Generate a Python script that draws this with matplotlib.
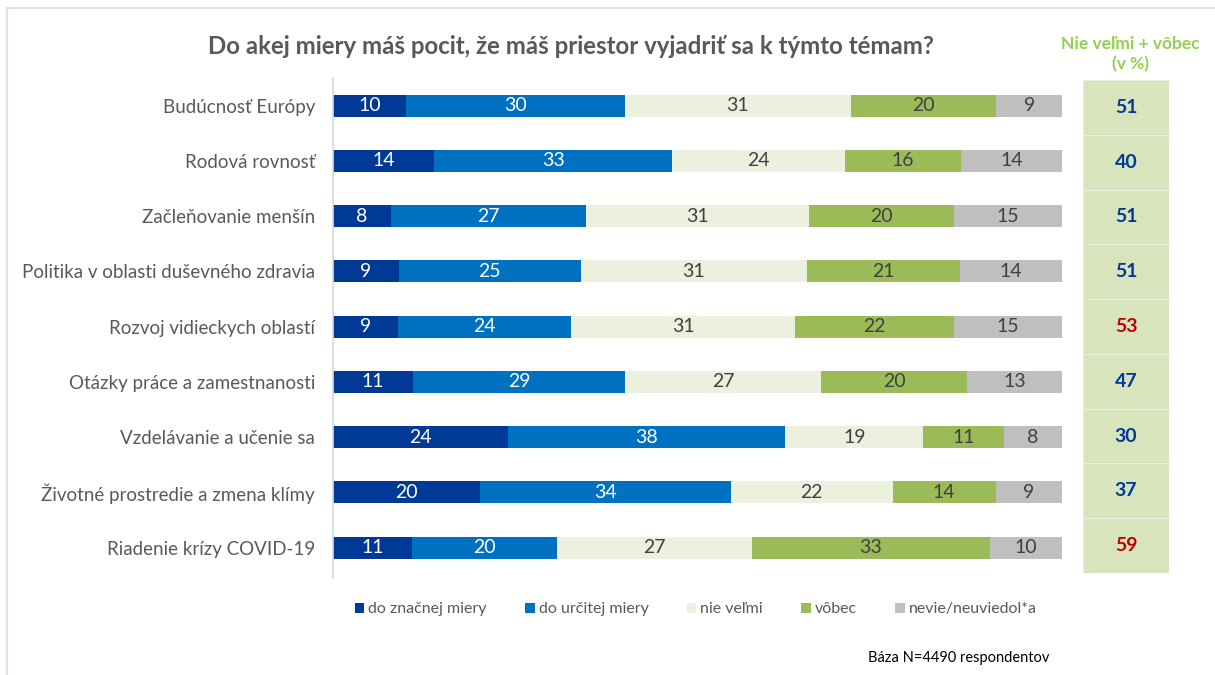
import numpy as np
import matplotlib.pyplot as plt
from matplotlib.patches import Patch, Rectangle

plt.rcParams.update({
    "font.family": ["Lato", "DejaVu Sans"],
})

# ── data ───────────────────────────────────────────────────────────────────────
categories = [
    "Budúcnosť Európy",
    "Rodová rovnosť",
    "Začleňovanie menšín",
    "Politika v oblasti duševného zdravia",
    "Rozvoj vidieckych oblastí",
    "Otázky práce a zamestnanosti",
    "Vzdelávanie a učenie sa",
    "Životné prostredie a zmena klímy",
    "Riadenie krízy COVID-19",
]
do_znacnej = [10, 14, 8, 9, 9, 11, 24, 20, 11]
do_urcitej = [30, 33, 27, 25, 24, 29, 38, 34, 20]
nie_velmi = [31, 24, 31, 31, 31, 27, 19, 22, 27]
vobec = [20, 16, 20, 21, 22, 20, 11, 14, 33]
nevie = [9, 14, 15, 14, 15, 13, 8, 9, 10]
nie_plus_vobec = [51, 40, 51, 51, 53, 47, 30, 37, 59]
highlight = [False, False, False, False, True, False, False, False, True]

series_labels = ["do značnej miery", "do určitej miery", "nie veľmi", "vôbec",
                 "nevie/neuviedol*a"]

# ── style ──────────────────────────────────────────────────────────────────────
COLORS = ["#003A96", "#0070C0", "#EBF1DE", "#9BBB59", "#BFBFBF"]
TEXT_COLORS = ["white", "white", "#404040", "#404040", "#404040"]
GRAY = "#595959"
PANEL = "#D7E4BC"
W, H = 1215, 675

fig = plt.figure(figsize=(W / 100, H / 100), dpi=100)

# light frame
fig.add_artist(plt.Line2D([7 / W, 7 / W], [0, 1 - 8 / H], transform=fig.transFigure,
                          color="#DAE3F3", lw=1.5))
fig.add_artist(plt.Line2D([7 / W, 1], [1 - 8 / H, 1 - 8 / H], transform=fig.transFigure,
                          color="#DAE3F3", lw=1.5))

ax = fig.add_axes([333 / W, 1 - 578 / H, 729 / W, 500 / H])
y = np.arange(len(categories))
all_series = [do_znacnej, do_urcitej, nie_velmi, vobec, nevie]
# rounded shares: the chart stretches every row to full width (100 %)
row_tot = np.sum(all_series, axis=0)
left = np.zeros(len(categories))
for vals, col, tcol, lab in zip(all_series, COLORS, TEXT_COLORS, series_labels):
    vals = np.array(vals)
    widths = vals * 100 / row_tot
    ax.barh(y, widths, left=left, height=0.4, color=col, label=lab)
    for yi, l, w_, v in zip(y, left, widths, vals):
        ax.text(l + w_ / 2, yi, str(v), ha="center", va="center",
                color=tcol, fontsize=14)
    left += widths

ax.set_xlim(0, 100)
ax.set_ylim(8.55, -0.5)
ax.set_yticks(y)
ax.set_yticklabels(categories, fontsize=13.5, color=GRAY)
ax.tick_params(axis="y", length=0, pad=13)
ax.set_xticks([])
for s in ["top", "right", "bottom"]:
    ax.spines[s].set_visible(False)
ax.spines["left"].set_color("#D9D9D9")
ax.spines["left"].set_linewidth(1.2)

handles = [Patch(facecolor=c, label=l) for c, l in zip(COLORS, series_labels)]
ax.legend(handles=handles, loc="upper left", bbox_to_anchor=(0.01, -0.02), ncol=5,
          frameon=False, fontsize=11.5, handlelength=0.6, handleheight=0.6,
          handletextpad=0.25, columnspacing=2.4, labelcolor=GRAY)

# right panel: nie veľmi + vôbec
pax = fig.add_axes([1083 / W, 1 - 573 / H, 86 / W, 493 / H])
pax.set_xlim(0, 1)
pax.set_ylim(len(categories) - 0.5, -0.5)
for i, (v, hl) in enumerate(zip(nie_plus_vobec, highlight)):
    pax.add_patch(Rectangle((0, i - 0.5), 1, 1, facecolor=PANEL,
                            edgecolor="#E8EFDA", lw=0.8))
    pax.text(0.5, i, str(v), ha="center", va="center", fontsize=14,
             fontweight="bold", color="#C00000" if hl else "#003A96")
pax.axis("off")

fig.text(1130 / W, 1 - 54 / H, "Nie veľmi + vôbec\n(v %)", ha="center", va="center",
         fontsize=12.5, fontweight="bold", color="#92D050", linespacing=1.35)

fig.text(571 / W, 1 - 47 / H, "Do akej miery máš pocit, že máš priestor vyjadriť sa k týmto témam?",
         ha="center", va="center", fontsize=17.3, fontweight="bold", color=GRAY)

fig.text(868 / W, 1 - 658 / H, "Báza N=4490 respondentov", ha="left", va="center",
         fontsize=10.5, color="black")

plt.savefig("out.png", dpi=100)
